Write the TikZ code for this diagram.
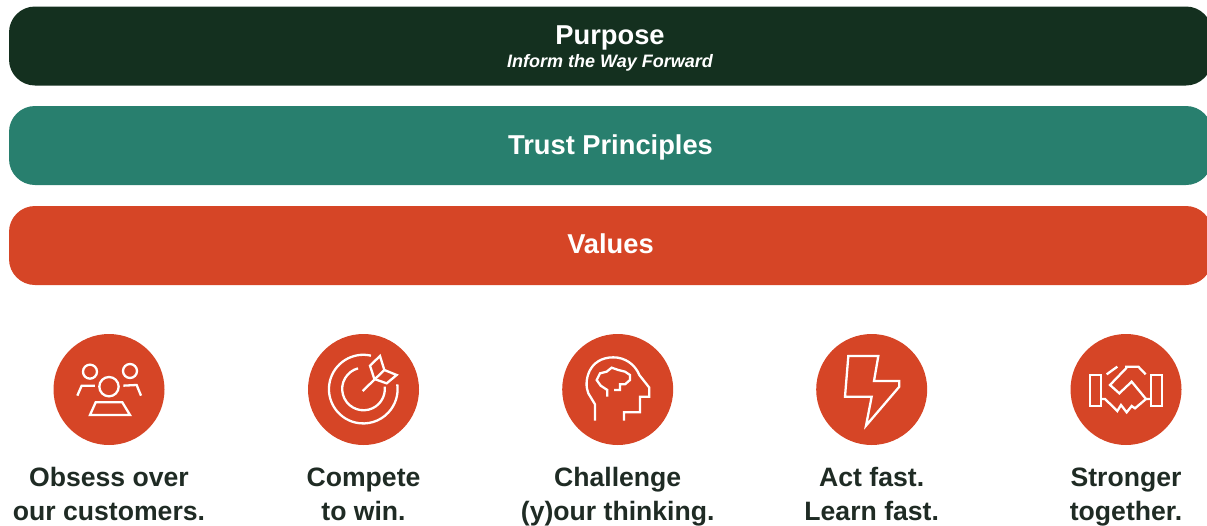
\documentclass[tikz,border=0pt]{standalone}
\usepackage{fontspec}
\setmainfont{Liberation Sans}
\definecolor{pgreen}{HTML}{14301F}
\definecolor{pteal}{HTML}{287F6E}
\definecolor{porange}{HTML}{D64526}
\definecolor{ptext}{HTML}{1F2B24}
\tikzset{
  barbox/.style={fill=#1,rounded corners=26pt,minimum width=1203pt,minimum height=79pt,inner sep=0pt},
  bartxt/.style={text=white,inner sep=0pt,font=\fontsize{27.3}{30}\selectfont\bfseries},
  badge/.style={circle,fill=porange,minimum size=111pt,inner sep=0pt},
  lbl/.style={text=ptext,align=center,anchor=north,inner sep=0pt,font=\fontsize{26.6}{34}\selectfont\bfseries},
  ico/.style={draw=white,line width=2.3pt,line join=miter,fill=none},
  icoz/.style={shift={(#1,325)},x=0.3333pt,y=-0.3333pt}
}
\begin{document}
\begin{tikzpicture}[x=1pt,y=-1pt]
\useasboundingbox (0,0) rectangle (1207,525);
\clip (0,0) rectangle (1207,525);
\node[barbox=pgreen] (purpose) at (610.5,46) {};
\node[bartxt] (purposet) at (610,38) {Purpose};
\node[text=white,inner sep=0pt,font=\fontsize{18}{20}\selectfont\bfseries\itshape] (purposes) at (610,62.5) {Inform the Way Forward};
\node[barbox=pteal] (trust) at (610.5,145.5) {};
\node[bartxt] (trustt) at (610.5,147.5) {Trust Principles};
\node[barbox=porange] (values) at (610.5,245.5) {};
\node[bartxt] (valuest) at (610.5,244) {Values};

\node[badge] (b1) at (109,389.5) {};
\node[badge] (b2) at (363.5,389.5) {};
\node[badge] (b3) at (617.7,389.5) {};
\node[badge] (b4) at (871.7,389.5) {};
\node[badge] (b5) at (1126,389.5) {};

\node[lbl] (l1) at (109,462.2) {\strut Obsess over\\our customers.};
\node[lbl] (l2) at (363.5,462.2) {\strut Compete\\to win.};
\node[lbl] (l3) at (617.7,462.2) {\strut Challenge\\(y)our thinking.};
\node[lbl] (l4) at (871.7,462.2) {\strut Act fast.\\Learn fast.};
\node[lbl] (l5) at (1126,462.2) {\strut Stronger\\together.};

% people
\begin{scope}[icoz=40]
\draw[ico] (207,185) circle[radius=29];
\draw[ico] (150,140) circle[radius=21];
\draw[ico] (270,138) circle[radius=21];
\draw[ico] (167,232) -- (247,232) -- (270,270) -- (150,270) -- cycle;
\draw[ico] (112,212) -- (125,182) -- (165,182);
\draw[ico] (250,182) -- (290,180) -- (303,212);
\end{scope}
% target
\begin{scope}[icoz=295]
\draw[ico] (228,92) arc[start angle=-77,end angle=-368,radius=103];
\draw[ico] (189,130) arc[start angle=-105,end angle=-366,radius=64];
\draw[ico] (203,198) -- (268,135);
\draw[ico] (238,162) -- (225,122) -- (255,93) -- (268,135) -- (305,150) -- (275,175) -- cycle;
\end{scope}
% head
\begin{scope}[icoz=550]
\draw[ico] (135,287) -- (135,238) -- (115,205) .. controls (100,170) and (115,97) .. (190,97) .. controls (225,97) and (255,118) .. (268,150) -- (298,188) -- (298,215) -- (270,215) -- (270,262) -- (222,262) -- (222,287);
\draw[ico] (172,215) -- (172,195) -- (152,182) -- (140,165) -- (150,145) -- (170,140) -- (185,128) -- (205,135) -- (225,140) -- (240,150) -- (240,165) -- (225,178) -- (210,178) -- (210,195) -- (192,195);
\end{scope}
% bolt
\begin{scope}[icoz=805]
\draw[ico] (130,93) -- (220,93) -- (207,168) -- (283,168) -- (283,185) -- (183,302) -- (200,215) -- (120,215) -- cycle;
\end{scope}
% handshake
\begin{scope}[icoz=1060]
\draw[ico] (90,150) rectangle (122,243);
\draw[ico] (272,150) rectangle (305,243);
\draw[ico] (140,148) -- (172,125);
\draw[ico] (195,125) -- (235,125) -- (257,148);
\draw[ico] (122,222) -- (135,222) -- (172,258) -- (183,240) -- (200,262) -- (215,243) -- (225,250) -- (258,222) -- (272,222);
\draw[ico] (200,128) -- (150,180) -- (178,205) -- (215,170) -- (258,222);
\end{scope}
\end{tikzpicture}
\end{document}
